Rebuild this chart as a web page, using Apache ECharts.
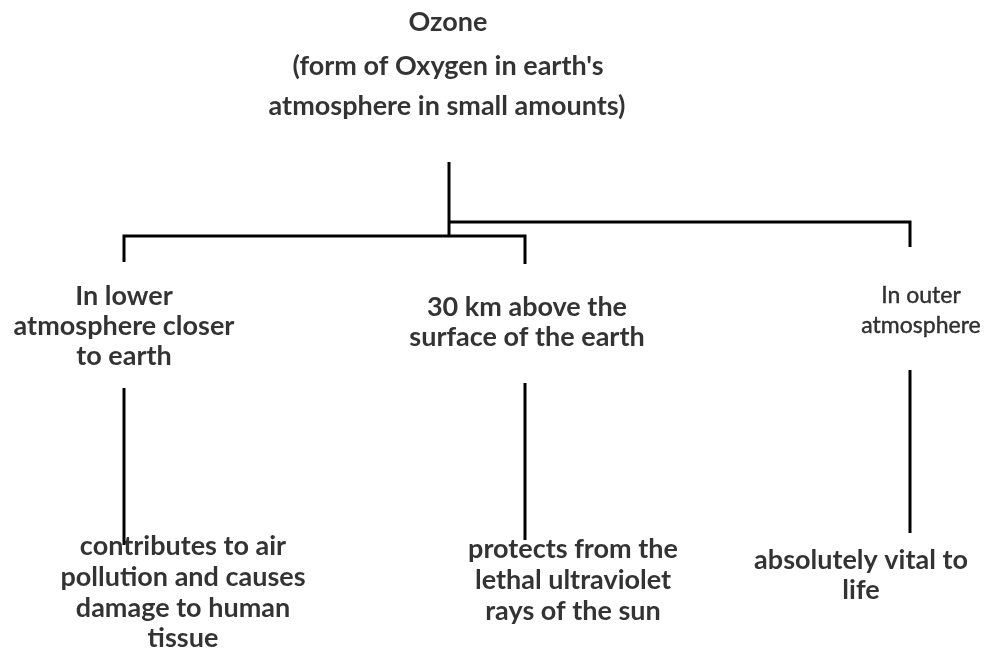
<!DOCTYPE html>
<html>
<head>
<meta charset="utf-8">
<script src="https://cdn.jsdelivr.net/npm/echarts@6/dist/echarts.min.js"></script>
<style>
html,body{margin:0;padding:0;background:#fff;}
#chart{width:984px;height:648px;}
</style>
</head>
<body>
<div id="chart"></div>
<script>
// Text lines of the tree nodes (one entry per printed line)
const textLines = [
  "Ozone",
  "(form of Oxygen in earth's",
  "atmosphere in small amounts)",
  "In lower",
  "atmosphere closer",
  "to earth",
  "30 km above the",
  "surface of the earth",
  "In outer",
  "atmosphere",
  "contributes to air",
  "pollution and causes",
  "damage to human",
  "tissue",
  "protects from the",
  "lethal ultraviolet",
  "rays of the sun",
  "absolutely vital to",
  "life"
];
const textX = [448, 448, 447, 124, 124, 124, 527, 527, 921, 921, 183, 183, 183, 183, 573, 573, 573, 861, 861];
const textY = [22, 66, 106, 296, 326, 356, 307, 337, 296, 326, 546, 577, 608, 638, 549, 580, 611, 560, 590];

// Connector segments (polylines) in diagram units
const connectors = [
  [[449, 162], [449, 236]],
  [[449, 222], [910, 222], [910, 247]],
  [[124, 262], [124, 236], [525, 236], [525, 264]],
  [[124, 388], [124, 545]],
  [[525, 383], [525, 540]],
  [[910, 370], [910, 533]]
];

const chart = echarts.init(document.getElementById('chart'), null, {renderer: 'canvas'});
chart.setOption({
  backgroundColor: '#ffffff',
  animation: false,
  grid: {left: 0, right: 0, top: 0, bottom: 0},
  xAxis: {type: 'value', min: 0, max: 984, show: false},
  yAxis: {type: 'value', min: 0, max: 648, inverse: true, show: false},
  series: [
    {
      type: 'lines',
      coordinateSystem: 'cartesian2d',
      polyline: true,
      silent: true,
      lineStyle: {color: '#000', width: 3, opacity: 1},
      data: connectors.map(c => ({coords: c}))
    },
    {
      type: 'scatter',
      symbolSize: 0,
      silent: true,
      data: textLines.map((t, i) => {
        const item = {value: [textX[i], textY[i]], name: t};
        if (i >= 8 && i <= 9) {
          item.label = {fontWeight: 'normal', fontSize: 23, textBorderColor: '#000', textBorderWidth: 0.4};
        }
        return item;
      }),
      label: {
        show: true,
        position: 'inside',
        formatter: p => p.name,
        color: '#000',
        fontFamily: 'Lato',
        fontWeight: 'bold',
        fontSize: 27
      }
    }
  ]
});
</script>
</body>
</html>
